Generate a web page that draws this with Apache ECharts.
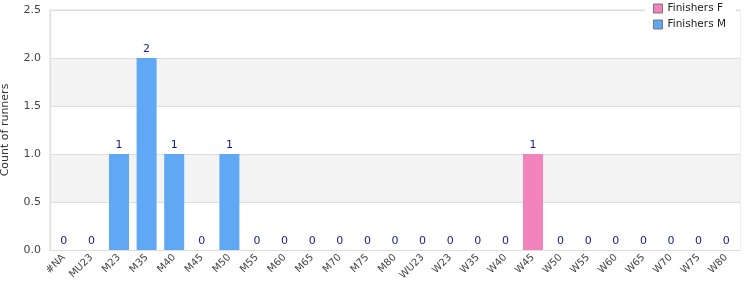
<!DOCTYPE html>
<html><head><meta charset="utf-8">
<script src="https://cdn.jsdelivr.net/npm/echarts@6/dist/echarts.min.js"></script>
<style>html,body{margin:0;padding:0;background:#fff}#c{width:750px;height:300px}</style>
</head><body><div id="c"></div>
<script>
var categories = ['#NA','MU23','M23','M35','M40','M45','M50','M55','M60','M65','M70','M75','M80','WU23','W23','W35','W40','W45','W50','W55','W60','W65','W70','W75','W80'];
var finishersM = [0,0,1,2,1,0,1,0,0,0,0,0,0,null,null,null,null,null,null,null,null,null,null,null,null];
var finishersF = [null,null,null,null,null,null,null,null,null,null,null,null,null,0,0,0,0,1,0,0,0,0,0,0,0];
var yTicks = [0, 0.5, 1.0, 1.5, 2.0, 2.5];

var chart = echarts.init(document.getElementById('c'));
var lbl = {show:true, position:'top', color:'#1a1a8c', fontSize:11, fontFamily:'DejaVu Sans', distance:3};
chart.setOption({
  animation:false,
  grid:{left:50, right:10, top:10, bottom:50, show:true, borderColor:'#ddd', borderWidth:1, containLabel:false, outerBoundsMode:'none'},
  legend:{
    data:['Finishers F','Finishers M'], orient:'vertical', right:14, top:0,
    backgroundColor:'#fff', padding:[3,10,3,8],
    itemWidth:9, itemHeight:9, itemGap:5,
    icon:'rect', itemStyle:{borderColor:'#777', borderWidth:1},
    textStyle:{fontFamily:'DejaVu Sans', fontSize:10.5, color:'#222'}
  },
  xAxis:{
    type:'category', data:categories,
    axisLine:{lineStyle:{color:'#ddd'}}, axisTick:{show:false},
    axisLabel:{rotate:45, interval:0, fontFamily:'DejaVu Sans', fontSize:10, color:'#444', margin:6}
  },
  yAxis:{
    type:'value', min:0, max:2.5, interval:0.5,
    name:'Count of runners', nameLocation:'middle', nameGap:39,
    nameTextStyle:{fontFamily:'DejaVu Sans', fontSize:11, color:'#333'},
    axisLine:{show:true, lineStyle:{color:'#ddd'}}, axisTick:{show:false},
    axisLabel:{fontFamily:'DejaVu Sans', fontSize:11, color:'#444', margin:9, formatter:function(v){return v.toFixed(1);}},
    splitLine:{lineStyle:{color:'#ddd'}},
    splitArea:{show:true, areaStyle:{color:['#ffffff','#f3f3f3']}}
  },
  series:[
    {name:'Finishers F', type:'bar', stack:'a', data:finishersF, barWidth:20, itemStyle:{color:'#f383bb'}, label:lbl},
    {name:'Finishers M', type:'bar', stack:'a', data:finishersM, barWidth:20, itemStyle:{color:'#60a8f4'}, label:lbl}
  ]
});
</script></body></html>
